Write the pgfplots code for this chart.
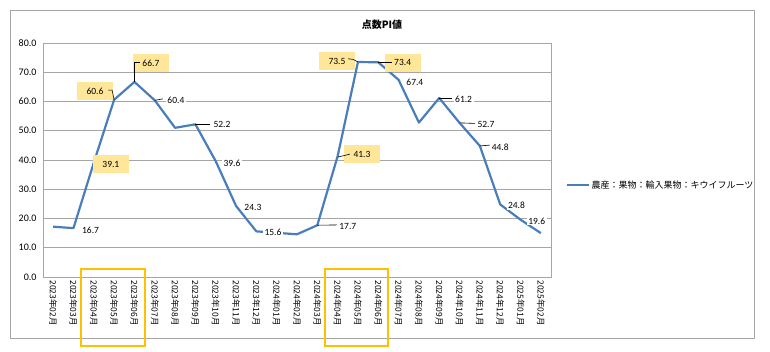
\documentclass[border=0pt]{standalone}
\usepackage{pgfplots}
\pgfplotsset{compat=1.18}
\usepackage{fontspec}
\setmainfont{Carlito}
\newfontfamily\cjk{Noto Sans CJK JP}
\definecolor{ser}{HTML}{4A7EBB}
\definecolor{hl}{HTML}{FFE699}
\definecolor{org}{HTML}{FFC000}
\definecolor{gr}{HTML}{A6A6A6}
\begin{document}
\begin{tikzpicture}[x=1pt,y=1pt]
\path (0,0) rectangle (770,352);
\draw[gr, line width=0.9pt] (10,14) rectangle (754,342);
\node[font=\cjk\bfseries\fontsize{10}{12}\selectfont] at (382,327) {点数PI値};
\tikzset{dl/.style={font=\fontsize{9.5}{10}\selectfont, fill=white, inner xsep=1.5pt, inner ysep=1pt},
 hb/.style={font=\fontsize{9.5}{10}\selectfont, fill=hl, minimum width=36pt, minimum height=18pt, inner sep=0pt},
 ld/.style={black, line width=0.6pt}}
\begin{axis}[
  at={(43pt,75pt)}, anchor=south west,
  scale only axis, width=508pt, height=234pt,
  xmin=-0.5, xmax=24.5, ymin=0, ymax=80,
  ytick={0,10,...,80},
  xtick={0,...,24},
  xticklabels={2023年02月,2023年03月,2023年04月,2023年05月,2023年06月,2023年07月,2023年08月,2023年09月,2023年10月,2023年11月,2023年12月,2024年01月,2024年02月,2024年03月,2024年04月,2024年05月,2024年06月,2024年07月,2024年08月,2024年09月,2024年10月,2024年11月,2024年12月,2025年01月,2025年02月},
  x tick label style={font=\cjk\fontsize{8.5}{9}\selectfont, rotate=-90, anchor=west},
  y tick label style={font=\fontsize{10}{11}\selectfont, xshift=-3pt},
  /pgf/number format/fixed, /pgf/number format/fixed zerofill, /pgf/number format/precision=1, /pgf/number format/assume math mode=true,
  major tick length=0pt,
  ymajorgrids, grid style={gr, line width=0.8pt},
  axis line style={gr, line width=0.8pt},
  clip=false,
  legend style={at={(1.028,0.393)}, anchor=west, draw=none, fill=none, font=\cjk\fontsize{9}{10}\selectfont, inner sep=0pt},
  legend image code/.code={\draw[#1] (0pt,0pt) -- (22pt,0pt);},
]
\addplot[ser, line width=2.2pt, mark=none, line join=round] coordinates {
(0,17.2) (1,16.7) (2,39.1) (3,60.6) (4,66.7) (5,60.4) (6,51.0) (7,52.2) (8,39.6) (9,24.3) (10,15.6) (11,15.1) (12,14.6) (13,17.7) (14,41.3) (15,73.5) (16,73.4) (17,67.4) (18,52.8) (19,61.2) (20,52.7) (21,44.8) (22,24.8) (23,19.6) (24,15.0)};
\addlegendentry{農産：果物：輸入果物：キウイフルーツ}
% highlight boxes
\node[hb] at (axis cs:2.84,38.6) {39.1};
\node[hb] at (axis cs:2.06,63.6) {60.6};
\node[hb] at (axis cs:4.81,73.2) {66.7};
\node[hb] at (axis cs:13.97,73.8) {73.5};
\node[hb] at (axis cs:15.2,42.0) {41.3};
\node[hb] at (axis cs:17.2,73.2) {73.4};
% leader lines
\draw[ld] (axis cs:2.70,63.9) -- (axis cs:2.90,63.9) -- (axis cs:3.0,60.6);
\draw[ld] (axis cs:4.0,66.7) -- (axis cs:4.0,73.5) -- (axis cs:4.27,73.5);
\draw[ld] (axis cs:5.0,60.4) -- (axis cs:5.4,60.9);
\draw[ld] (axis cs:7.0,52.2) -- (axis cs:7.72,52.2);
\draw[ld] (axis cs:14.51,74.6) -- (axis cs:14.76,74.4) -- (axis cs:15.0,73.5);
\draw[ld] (axis cs:16.0,73.4) -- (axis cs:16.67,73.4);
\draw[ld] (axis cs:14.01,41.0) -- (axis cs:14.6,42.0);
\draw[ld] (axis cs:13.0,17.7) -- (axis cs:13.97,17.8);
\draw[ld] (axis cs:19.0,61.2) -- (axis cs:19.62,61.2);
\draw[ld] (axis cs:20.0,52.7) -- (axis cs:20.76,52.5);
\draw[ld] (axis cs:21.0,44.8) -- (axis cs:21.5,45.1);
% plain labels
\node[dl] at (axis cs:1.84,16.1) {16.7};
\node[dl] at (axis cs:6.04,60.5) {60.4};
\node[dl] at (axis cs:8.31,52.0) {52.2};
\node[dl] at (axis cs:8.8,39.0) {39.6};
\node[dl] at (axis cs:9.83,23.9) {24.3};
\node[dl] at (axis cs:10.82,15.2) {15.6};
\node[dl] at (axis cs:14.5,17.4) {17.7};
\node[dl] at (axis cs:17.8,66.7) {67.4};
\node[dl] at (axis cs:20.2,60.9) {61.2};
\node[dl] at (axis cs:21.3,52.3) {52.7};
\node[dl] at (axis cs:22.0,44.4) {44.8};
\node[dl] at (axis cs:22.8,24.4) {24.8};
\node[dl] at (axis cs:23.8,19.1) {19.6};
% orange boxes
\draw[org, line width=1.8pt] (axis cs:1.37,2.7) rectangle (axis cs:4.52,-23.6);
\draw[org, line width=1.8pt] (axis cs:13.38,2.7) rectangle (axis cs:16.48,-23.6);
\end{axis}
\end{tikzpicture}
\end{document}
